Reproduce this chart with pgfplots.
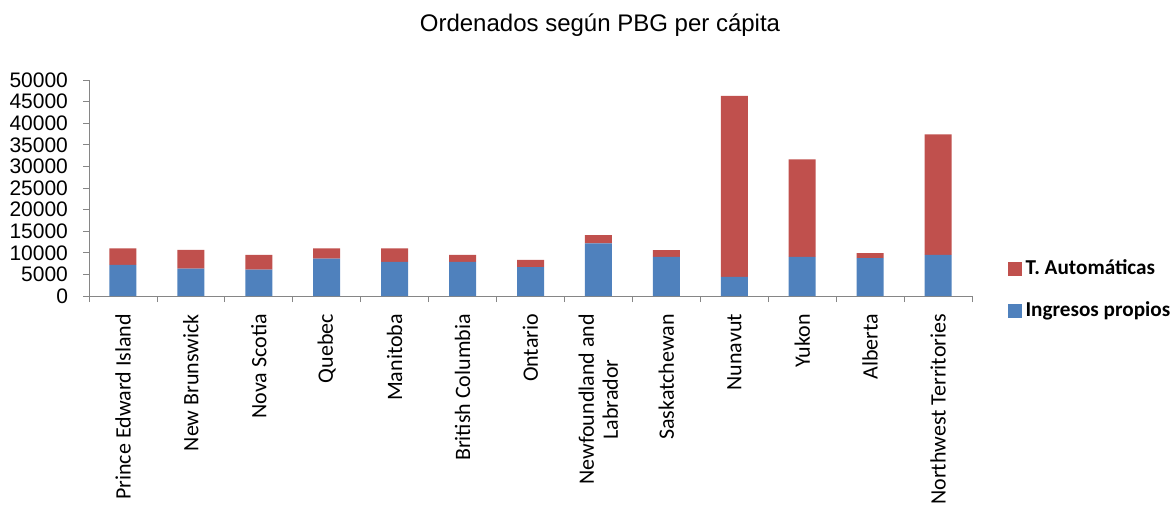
\documentclass[border=0pt]{standalone}
\usepackage{pgfplots}
\pgfplotsset{compat=1.18}
\usepackage{fontspec}
\setmainfont{Liberation Sans}
\newfontfamily\calibri{Carlito}
\definecolor{barblue}{HTML}{4F81BD}
\definecolor{barred}{HTML}{C0504D}
\definecolor{axgray}{HTML}{868686}

\begin{document}
\begin{tikzpicture}
\begin{axis}[
    at={(44.5pt,104pt)}, anchor=south west,
    scale only axis, width=441.5pt, height=108pt,
    ybar stacked, bar width=13.5pt,
    xmin=-0.5, xmax=12.5, ymin=0, ymax=50000,
    ytick={0,5000,10000,15000,20000,25000,30000,35000,40000,45000,50000},
    xtick={-0.5,0.5,1.5,2.5,3.5,4.5,5.5,6.5,7.5,8.5,9.5,10.5,11.5,12.5},
    x tick label as interval,
    xticklabels={Prince Edward Island,New Brunswick,Nova Scotia,Quebec,Manitoba,British Columbia,Ontario,{Newfoundland and\\Labrador},Saskatchewan,Nunavut,Yukon,Alberta,Northwest Territories},
    axis lines*=left,
    axis line style={axgray},
    tick align=outside, major tick length=3pt,
    tick style={axgray, thin},
    scaled y ticks=false,
    /pgf/number format/1000 sep={},
    /pgf/number format/assume math mode=true,
    yticklabel style={font=\fontsize{10.5}{11}\selectfont, xshift=-4pt},
    xticklabel style={font=\calibri\fontsize{11}{12}\selectfont, rotate=90, anchor=east, align=center, xshift=-2.5pt},
    legend style={at={(1.033,0.028)}, anchor=west, draw=none, fill=none,
        font=\calibri\bfseries\fontsize{10.6}{12}\selectfont, row sep=8pt,
        cells={anchor=west}},
    reverse legend,
    legend image code/.code={\fill[#1] (0pt,-3.5pt) rectangle (7pt,3.5pt);},
  ]
\addplot[fill=barblue, draw=none] coordinates {
  (0,7200) (1,6350) (2,6100) (3,8670) (4,7900) (5,7900) (6,6700)
  (7,12200) (8,9040) (9,4400) (10,9040) (11,8740) (12,9500)};
\addlegendentry{Ingresos propios}
\addplot[fill=barred, draw=none] coordinates {
  (0,3800) (1,4300) (2,3400) (3,2330) (4,3100) (5,1600) (6,1650)
  (7,1900) (8,1600) (9,41900) (10,22560) (11,1160) (12,27900)};
\addlegendentry{T. Automáticas}
\end{axis}
\node[font=\fontsize{12}{14}\selectfont] at (300pt,239.5pt) {Ordenados según PBG per cápita};
\pgfresetboundingbox
\useasboundingbox (0,0) rectangle (588pt,252pt);
\end{tikzpicture}
\end{document}
